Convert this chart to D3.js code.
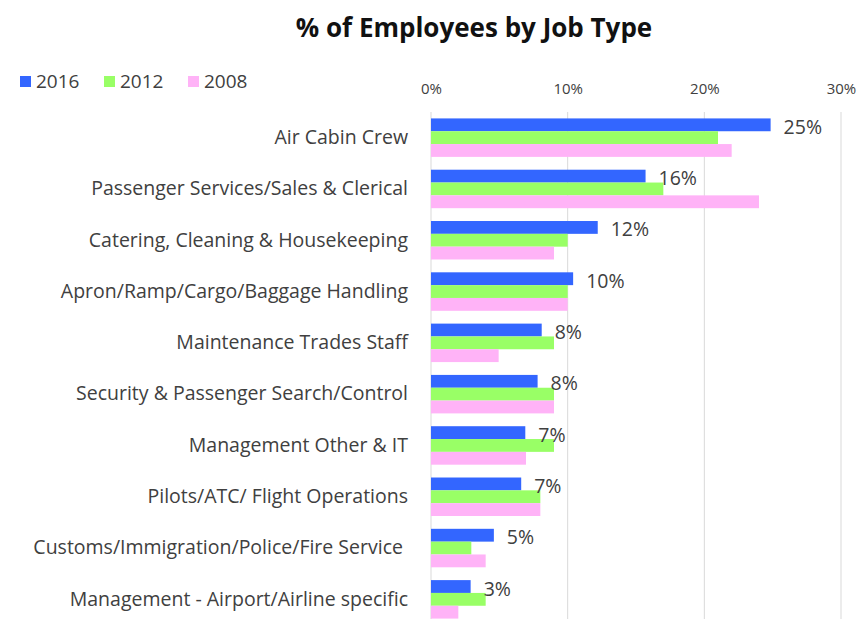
<!DOCTYPE html>
<html>
<head>
<meta charset="utf-8">
<script src="https://cdn.jsdelivr.net/npm/d3@7/dist/d3.min.js"></script>
<style>
  html, body { margin: 0; padding: 0; background: #fff; }
  svg { display: block; font-family: "Open Sans", sans-serif; }
  text { white-space: pre; }
</style>
</head>
<body>
<svg id="chart" width="858" height="619"></svg>
<script>
// Job types, top to bottom
const categories = [
  "Air Cabin Crew",
  "Passenger Services/Sales & Clerical",
  "Catering, Cleaning & Housekeeping",
  "Apron/Ramp/Cargo/Baggage Handling",
  "Maintenance Trades Staff",
  "Security & Passenger Search/Control",
  "Management Other & IT",
  "Pilots/ATC/ Flight Operations",
  "Customs/Immigration/Police/Fire Service ",
  "Management - Airport/Airline specific"
];

// Share of employees (%) per survey year
const years = ["2016", "2012", "2008"];
const values2016 = [24.85, 15.7, 12.2, 10.4, 8.1, 7.8, 6.9, 6.6, 4.6, 2.9];
const values2012 = [21.0, 17.0, 10.0, 10.0, 9.0, 9.0, 9.0, 8.0, 2.95, 4.0];
const values2008 = [22.0, 24.0, 9.0, 10.0, 4.95, 9.0, 6.95, 8.0, 4.0, 2.0];
const xTicks = [0, 10, 20, 30];

const seriesValues = { "2016": values2016, "2012": values2012, "2008": values2008 };
const colors = { "2016": "#3366ff", "2012": "#99ff66", "2008": "#ffb3f7" };

const svg = d3.select("#chart");
const textColor = "#404040";

// Title
svg.append("text")
  .attr("x", 474).attr("y", 37)
  .attr("text-anchor", "middle")
  .attr("font-size", 26).attr("font-weight", "bold")
  .attr("fill", "#111")
  .text("% of Employees by Job Type");

// Scales
const x = d3.scaleLinear().domain([0, 30]).range([431, 841]);
const y = d3.scaleBand().domain(categories).range([112, 625])
  .paddingInner(0.25).paddingOuter(0.125);
const ySub = d3.scaleBand().domain(years).range([0, y.bandwidth()]);

// Gridlines
svg.append("g")
  .selectAll("line")
  .data(xTicks)
  .join("line")
  .attr("x1", d => x(d)).attr("x2", d => x(d))
  .attr("y1", 112).attr("y2", 619)
  .attr("stroke", "#d9d9d9").attr("stroke-width", 1);

// Top axis labels
const xAxis = d3.axisTop(x).tickValues(xTicks).tickFormat(d => d + "%").tickSize(0).tickPadding(0);
const gx = svg.append("g").attr("transform", "translate(0,94)").call(xAxis);
gx.select(".domain").remove();
gx.selectAll("text")
  .attr("font-family", "Open Sans, sans-serif")
  .attr("font-size", 15).attr("fill", textColor);

// Category labels
const yAxis = d3.axisLeft(y).tickSize(0).tickPadding(0);
const gy = svg.append("g").attr("transform", "translate(408,0)").call(yAxis);
gy.select(".domain").remove();
gy.selectAll("text")
  .attr("font-family", "Open Sans, sans-serif")
  .attr("font-size", 19.5).attr("fill", textColor);

// Bars
const groups = svg.append("g")
  .selectAll("g")
  .data(categories)
  .join("g")
  .attr("transform", d => `translate(0,${y(d)})`);

groups.selectAll("rect")
  .data((d, i) => years.map(yr => ({ year: yr, value: seriesValues[yr][i] })))
  .join("rect")
  .attr("x", x(0))
  .attr("y", d => ySub(d.year))
  .attr("width", d => x(d.value) - x(0))
  .attr("height", ySub.bandwidth())
  .attr("fill", d => colors[d.year]);

// 2016 value labels
groups.append("text")
  .datum((d, i) => values2016[i])
  .attr("x", d => x(d) + 13)
  .attr("y", ySub("2016") + ySub.bandwidth() / 2 + 9)
  .attr("font-size", 19.5).attr("fill", textColor)
  .text(d => Math.round(d) + "%");

// Legend
const legend = svg.append("g").attr("transform", "translate(20,76)");
const legendX = [0, 84, 168];
years.forEach((yr, i) => {
  const g = legend.append("g").attr("transform", `translate(${legendX[i]},0)`);
  g.append("rect").attr("width", 11).attr("height", 11).attr("fill", colors[yr]);
  g.append("text").attr("x", 16).attr("y", 12)
    .attr("font-size", 19).attr("fill", textColor).text(yr);
});
</script>
</body>
</html>
